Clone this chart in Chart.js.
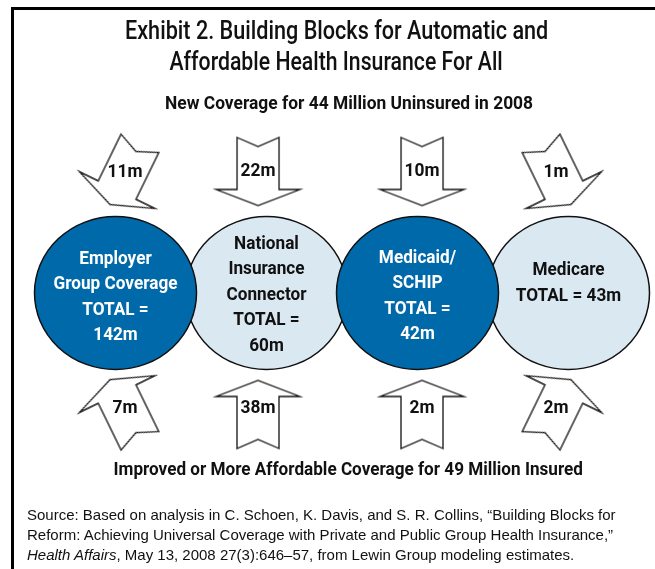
<!DOCTYPE html>
<html><head><meta charset="utf-8">
<script src="https://cdn.jsdelivr.net/npm/chart.js@4.4.1/dist/chart.umd.min.js"></script>
<style>
html,body{margin:0;padding:0;background:#fff;}
#wrap{position:relative;width:655px;height:569px;overflow:hidden;background:#fff;}
#frame{position:absolute;left:11px;top:7px;width:700px;height:700px;border-left:3px solid #000;border-top:3px solid #000;}
#cbox{position:absolute;left:0;top:0;width:655px;height:569px;}
.h{position:absolute;width:800px;text-align:center;white-space:nowrap;color:#111;font-family:Roboto,'Liberation Sans',sans-serif;}
.h span{display:inline-block;transform-origin:50% 50%;}
#src{position:absolute;left:27px;top:505px;font-family:'Liberation Sans',Arial,sans-serif;font-size:15px;line-height:20px;color:#111;white-space:nowrap;}
</style></head>
<body>
<div id="wrap">
  <div id="frame"></div>
  <div id="cbox"><canvas id="c"></canvas></div>
  <div class="h" id="t1" style="left:-63px;top:15px;font-size:25px;line-height:31px;font-weight:500"><span></span></div>
  <div class="h" id="t2" style="left:-64px;top:46px;font-size:25px;line-height:31px;font-weight:500"><span></span></div>
  <div class="h" id="sub" style="left:-51px;top:92px;font-size:19px;line-height:22px;font-weight:700"><span></span></div>
  <div class="h" id="cap" style="left:-52px;top:458px;font-size:19px;line-height:22px;font-weight:700"><span></span></div>
  <div id="src">Source: Based on analysis in C. Schoen, K. Davis, and S. R. Collins, “Building Blocks for<br>Reform: Achieving Universal Coverage with Private and Public Group Health Insurance,”<br><i>Health Affairs</i>, May 13, 2008 27(3):646–57, from Lewin Group modeling estimates.</div>
</div>
<script>
// ---- data ----
const circleNames = [['Employer','Group Coverage'], ['National','Insurance','Connector'], ['Medicaid/','SCHIP'], ['Medicare']];
const circleTotals = [142, 60, 42, 43];
const newCoverage = [11, 22, 10, 1];        // new coverage for the uninsured, by block
const improvedCoverage = [7, 38, 2, 2];     // improved / more affordable coverage for the insured
const uninsuredTotal = 44;
const insuredTotal = 49;
const year = 2008;
const titleLines = ['Exhibit 2. Building Blocks for Automatic and', 'Affordable Health Insurance For All'];

// ---- layout / style ----
const FONT = "Roboto,'Liberation Sans',sans-serif";
const circleX = [0, 1, 2, 3];
const drawOrder = [1, 3, 0, 2];             // light blocks underneath, dark blocks on top
const arrowX = [0.063, 0.944, 2.03, 2.917];
const topArrowY = [0.98, 1, 1, 0.98];
const botArrowY = [-0.965, -1, -1, -0.965];
const topRot = [26, 0, 0, -26];
const botRot = [154, 180, 180, 206];
const topLabelDy = [-2, 0, 0, -2];
const botLabelDy = [-2, -6, -6, -2];
const circleFill = ['#0069AA', '#DAE8F2', '#0069AA', '#DAE8F2'];
const circleText = ['#ffffff', '#111111', '#ffffff', '#111111'];
const circleTextShift = [4, 2, 3, -10];
const totalOneLine = [false, false, false, true];

// headings, squeezed to the condensed widths of the original
function setHeading(id, text, w) {
  const s = document.querySelector('#' + id + ' span');
  s.textContent = text;
  s.style.transform = `scaleX(${w / s.offsetWidth})`;
}
setHeading('t1', titleLines[0], 423);
setHeading('t2', titleLines[1], 333);
setHeading('sub', `New Coverage for ${uninsuredTotal} Million Uninsured in ${year}`, 368);
setHeading('cap', `Improved or More Affordable Coverage for ${insuredTotal} Million Insured`, 469);

// arrow glyph (pointing down), used as point style
const arrowImg = document.createElement('canvas');
arrowImg.width = 100; arrowImg.height = 80;
(function(){
  const g = arrowImg.getContext('2d');
  g.translate(50, 40);
  const p = [[-21,-34],[0,-25],[21,-34],[21,18],[42,18],[0,34],[-42,18],[-21,18]];
  g.beginPath();
  p.forEach((q,i)=> i ? g.lineTo(q[0],q[1]) : g.moveTo(q[0],q[1]));
  g.closePath();
  g.fillStyle = '#fff'; g.fill();
  g.lineWidth = 1.3; g.strokeStyle = '#111'; g.lineJoin = 'miter'; g.stroke();
})();

const yScaleK = 77.5 / 82;
const squash = {
  id: 'squash',
  beforeDatasetDraw(chart, args) {
    if (args.index !== 0) return;
    const cy = chart.scales.y.getPixelForValue(0);
    const ctx = chart.ctx;
    ctx.save(); ctx.translate(0, cy); ctx.scale(1, yScaleK); ctx.translate(0, -cy);
  },
  afterDatasetDraw(chart, args) { if (args.index === 0) chart.ctx.restore(); }
};

function condText(ctx, s, x, y, sx) {
  ctx.save(); ctx.translate(x, y); ctx.scale(sx, 1); ctx.fillText(s, 0, 0); ctx.restore();
}

const labels = {
  id: 'labels',
  afterDatasetsDraw(chart) {
    const ctx = chart.ctx;
    ctx.save();
    ctx.textAlign = 'center'; ctx.textBaseline = 'middle';
    ctx.font = 'bold 19px ' + FONT;
    const sxC = 124 / ctx.measureText('Group Coverage').width;
    chart.getDatasetMeta(0).data.forEach((pt, j) => {
      const i = drawOrder[j];
      const lines = circleNames[i].slice();
      if (totalOneLine[i]) lines.push(`TOTAL = ${circleTotals[i]}m`);
      else lines.push('TOTAL =', `${circleTotals[i]}m`);
      const lh = 25.5, cy = pt.y + circleTextShift[i];
      ctx.fillStyle = circleText[i];
      lines.forEach((s, k) => condText(ctx, s, pt.x, cy + (k - (lines.length - 1) / 2) * lh, sxC));
    });
    ctx.font = 'bold 19px ' + FONT;
    const sxA = 35 / ctx.measureText('22m').width;
    ctx.fillStyle = '#111';
    [[1, newCoverage, topLabelDy], [2, improvedCoverage, botLabelDy]].forEach(([di, vals, dy]) => {
      chart.getDatasetMeta(di).data.forEach((pt, i) => condText(ctx, `${vals[i]}m`, pt.x, pt.y + dy[i], sxA));
    });
    ctx.restore();
  }
};

new Chart(document.getElementById('c'), {
  type: 'bubble',
  data: {
    datasets: [
      { label: 'Blocks', data: drawOrder.map(i => ({ x: circleX[i], y: 0, r: 81 })),
        backgroundColor: drawOrder.map(i => circleFill[i]), borderColor: '#111', borderWidth: 1.5 },
      { type: 'scatter', label: 'New coverage', data: arrowX.map((x, i) => ({ x, y: topArrowY[i] })),
        pointStyle: arrowImg, pointRotation: topRot, pointRadius: 40 },
      { type: 'scatter', label: 'Improved coverage', data: arrowX.map((x, i) => ({ x, y: botArrowY[i] })),
        pointStyle: arrowImg, pointRotation: botRot, pointRadius: 40 }
    ]
  },
  options: {
    responsive: true, maintainAspectRatio: false, animation: false, events: [],
    layout: { padding: 0, autoPadding: false },
    plugins: { legend: { display: false }, tooltip: { enabled: false }, title: { display: false } },
    scales: {
      x: { type: 'linear', display: false, min: -115.5 / 151, max: -115.5 / 151 + 655 / 151 },
      y: { type: 'linear', display: false, min: -(569 - 293) / 121.5, max: 293 / 121.5 }
    }
  },
  plugins: [squash, labels]
});
</script>
</body></html>
